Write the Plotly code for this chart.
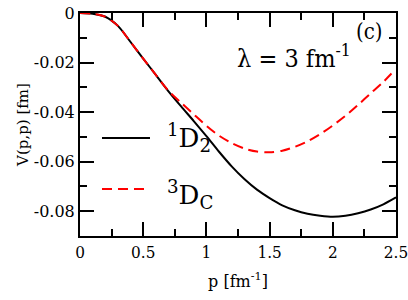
import plotly.graph_objects as go

p = [0, 0.1, 0.2, 0.3, 0.4, 0.5, 0.6, 0.7, 0.8, 0.9, 1.0, 1.1, 1.2, 1.3, 1.4, 1.5,
     1.6, 1.7, 1.8, 1.9, 2.0, 2.1, 2.2, 2.3, 2.4, 2.5]
v_1D2 = [0, -0.0003, -0.0015, -0.0052, -0.0117, -0.0184, -0.0250, -0.0316, -0.0377, -0.0436,
         -0.0497, -0.0560, -0.0619, -0.0670, -0.0713, -0.0747, -0.0776, -0.0796, -0.0810, -0.0818,
         -0.0822, -0.0818, -0.0808, -0.0793, -0.0772, -0.0744]
v_3DC = [0, -0.0003, -0.0015, -0.0052, -0.0117, -0.0184, -0.0250, -0.0314, -0.0362, -0.0409,
         -0.0455, -0.0495, -0.0525, -0.0547, -0.0559, -0.0562, -0.0556, -0.0540, -0.0518, -0.0489,
         -0.0454, -0.0415, -0.0371, -0.0324, -0.0278, -0.0225]

x_ticks = [0, 0.5, 1, 1.5, 2, 2.5]
x_ticktext = ["0", "0.5", "1", "1.5", "2", "2.5"]
y_ticks = [0, -0.02, -0.04, -0.06, -0.08]
y_ticktext = ["0", "-0.02", "-0.04", "-0.06", "-0.08"]

F_COND = "DejaVu Serif Condensed, DejaVu Serif"
F_SERIF = "DejaVu Serif"

fig = go.Figure()
fig.add_trace(go.Scatter(x=p, y=v_1D2, mode="lines",
                         line=dict(color="black", width=2, shape="spline", smoothing=0.8),
                         showlegend=False))
fig.add_trace(go.Scatter(x=p, y=v_3DC, mode="lines",
                         line=dict(color="red", width=2, shape="spline", smoothing=0.8, dash="10px,6px"),
                         showlegend=False))

axis_common = dict(showline=True, linecolor="black", linewidth=2, mirror="ticks",
                   ticks="inside", ticklen=14, tickwidth=2, tickcolor="black",
                   showgrid=False, zeroline=False, automargin=False, ticklabeloverflow="allow")

fig.update_xaxes(range=[0, 2.5], tickmode="array", tickvals=x_ticks, ticktext=x_ticktext,
                 tickfont=dict(family=F_COND, size=17, color="black"),
                 minor=dict(ticks="inside", ticklen=7, tickwidth=2, tickcolor="black", dtick=0.25, tick0=0),
                 title=dict(text="p [fm<sup>-1</sup>]", font=dict(family=F_SERIF, size=16, color="black"), standoff=14),
                 **axis_common)
fig.update_yaxes(range=[-0.09, 0], tickmode="array", tickvals=y_ticks, ticktext=y_ticktext,
                 tickfont=dict(family=F_SERIF, size=16, color="black"),
                 minor=dict(ticks="inside", ticklen=7, tickwidth=2, tickcolor="black", dtick=0.01, tick0=0),
                 title=dict(text="V(p,p) [fm]", font=dict(family=F_SERIF, size=15, color="black"), standoff=2),
                 **axis_common)

# legend drawn manually
fig.add_shape(type="line", xref="paper", yref="paper", x0=0.0696, x1=0.2215, y0=0.4395, y1=0.4395,
              line=dict(color="black", width=2))
fig.add_shape(type="line", xref="paper", yref="paper", x0=0.0696, x1=0.2215, y0=0.2108, y1=0.2108,
              line=dict(color="red", width=2, dash="10px,6px"))
fig.add_annotation(xref="paper", yref="paper", x=0.269, y=0.442, xanchor="left", yanchor="middle",
                   text="<sup>1</sup>D<sub>2</sub>", showarrow=False,
                   font=dict(family=F_SERIF, size=26, color="black"))
fig.add_annotation(xref="paper", yref="paper", x=0.269, y=0.184, xanchor="left", yanchor="middle",
                   text="<sup>3</sup>D<sub>C</sub>", showarrow=False,
                   font=dict(family=F_SERIF, size=26, color="black"))
fig.add_annotation(xref="paper", yref="paper", x=0.49, y=0.805, xanchor="left", yanchor="middle",
                   text="λ = 3 fm<sup>-1</sup>", showarrow=False,
                   font=dict(family=F_COND, size=25, color="black"))
fig.add_annotation(xref="paper", yref="paper", x=0.915, y=0.915, xanchor="center", yanchor="middle",
                   text="(c)", showarrow=False,
                   font=dict(family=F_COND, size=22, color="black"))

fig.update_layout(width=408, height=300, margin=dict(l=80, r=12, t=13, b=64),
                  paper_bgcolor="white", plot_bgcolor="white")

# the default page adds an 8px body margin; remove it so the figure sits at the window origin
fig.write_html("out.html", config={"displayModeBar": False},
               post_script="document.body.style.margin='0';")
